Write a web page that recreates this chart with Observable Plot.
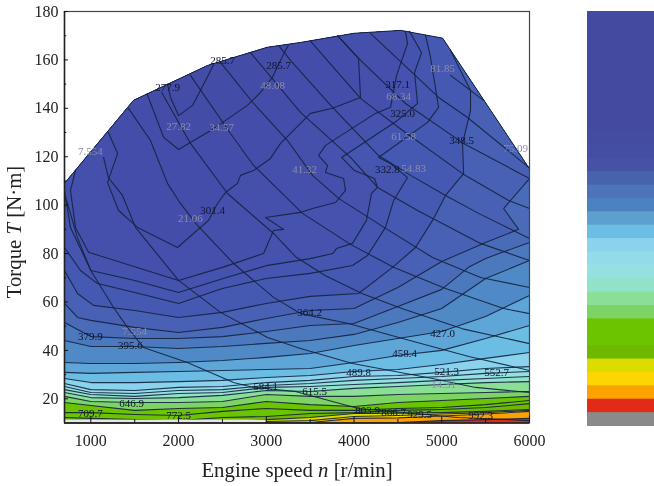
<!DOCTYPE html>
<html><head><meta charset="utf-8">
<script src="https://cdn.jsdelivr.net/npm/d3@7"></script>
<script src="https://cdn.jsdelivr.net/npm/@observablehq/plot@0.6"></script>
<style>
html,body{margin:0;padding:0;background:#fff}
#wrap{position:relative;width:654px;height:486px;overflow:hidden}
#wrap svg{position:absolute;filter:blur(0.45px)}
</style></head><body><div id="wrap"></div>
<script>
// Operating envelope [speed, torque]
const envelope=[[700,109],[1487,143.3],[2330,157.7],[3010,165.2],[3390,167.2],[4000,171],[4530,172.2],[5010,169],[6000,115]];
const speedGrid=[700,1000,1500,2000,2500,3000,3500,4000,4500,5000,5500,6000];

// BSFC contours that close on the envelope [speed, torque]
const bsfc277=[[1874,150],[1908,144.5],[2000,137],[2160,141.2],[2400,158]];
const bsfc285=[[1640,146],[1830,128],[2000,123],[2115,125.5],[2400,131.6],[2785,141.2],[2935,146.6],[3070,152.8],[3200,162.6],[3250,166]];
const bsfc301=[[1200,130],[1305,121.3],[1190,109.4],[1316,97.8],[1532,90.8],[1988,82.5],[2342,93.7],[2444,100.7],[2535,105.2],[2672,109],[2706,112.3],[2855,114.3],[3048,119.3],[3162,125.5],[3390,133.8],[3504,137.9],[3755,140],[4074,144.5],[4052,160.6],[3812,170]];
const bsfc317=[[825,114.3],[768,106.1],[825,90.8],[974,80.5],[2000,68.9],[2500,74.3],[2969,80],[3083,89.5],[3197,90],[2991,94.9],[3390,97],[3527,98.6],[3789,101.1],[3903,106.1],[3881,111],[3675,113.5],[3698,116.4],[3596,120.5],[3675,124.7],[4245,137.9],[4416,140.4],[4485,153.6],[4610,166.8],[4587,171.6]];
const bsfc325=[[700,104],[734,100.7],[848,86.5],[1000,73],[1500,68.9],[2000,63.9],[2500,69.6],[3000,75],[3500,77.9],[3759,80],[3800,82.1],[3983,84.2],[4142,93.7],[4199,104.9],[4268,107.3],[4234,111],[4005,114.3],[3858,119.7],[4496,135],[4724,142],[4690,154.8],[4770,163],[4633,171.8]];
const bsfc332=[[700,82.5],[882,73],[1076,67.6],[1500,63.9],[2000,59.4],[2500,65.6],[3000,69.7],[3500,71.8],[3983,75.1],[4154,79.2],[4359,90.8],[4451,101.9],[4610,111.4],[4416,117.2],[4280,119.7],[4838,134.2],[4964,140.4],[4872,161],[4815,170.2]];
const bsfc348=[[700,73],[848,63.5],[1031,58.6],[1500,56.5],[2000,53.6],[2500,55.7],[3000,59.4],[3500,62.3],[4052,63.5],[4439,74.3],[4701,82.5],[4895,93.7],[5043,104],[5249,113],[5237,125.5],[5328,139.1],[5328,147.4],[5100,163.9]];
const bsfc364=[[700,59.4],[848,53.6],[1000,52.4],[1500,49.5],[2000,47.4],[2500,49.5],[3000,53.2],[3500,56.5],[4000,57.3],[4500,66],[5000,76.7],[5500,84.6],[5876,90],[5705,98.6],[6000,111]];
const bsfc379=[[700,51.5],[1000,45.7],[1500,44.9],[2000,44.9],[2500,45.7],[3000,47.8],[3500,50.3],[4000,51.1],[4500,58.1],[5000,65.2],[5305,74.3],[5500,78],[5690,80.5],[6000,84.6]];

// BSFC contours across the whole speed range: torque at each speedGrid value
const bsfc395=[44.1,41.6,41.6,40.8,41.6,42.9,44.1,46.6,51.5,57.3,69.7,77.1];
const bsfc427=[35,34.6,34.6,35,35.8,37.1,38.7,42,44.9,47.8,54,62.7];
const bsfc458=[30.9,30.5,30.9,31.3,31.7,32.1,32.5,35,37.9,40,44.9,50.3];
const bsfc489=[28.4,26.7,26.7,27.1,27.6,28.8,29.6,31.3,32.1,34.2,36.7,39.1];
const bsfc521=[26.3,23.8,23.4,24.7,25.1,26.7,27.6,29.2,29.6,30.9,32.5,33.3];
const bsfc552=[25.1,22.6,22.2,23.4,23.8,25.5,26.3,27.6,28.4,29.2,30.5,31.3];
const bsfc584=[23.8,21.8,21,22.2,22.6,24.7,25.1,25.9,26.7,27.6,28.4,29.2];
const bsfc615=[22.6,20.5,20.1,20.5,21.4,23.4,23,24.3,25.1,25.9,26.7,27.1];
const bsfc646=[21,18.9,18.5,18.5,18.9,21.8,21,21,21.8,22.2,22.6,23];
const bsfc678=[18.5,17.2,15.2,16,16.4,18.9,17.6,16.8,18.5,19.3,20.1,21];
const bsfc709=[14.3,14.3,13.5,13.1,14.8,16,15.2,15.2,16,16.4,17.6,19.3];
const bsfc741=[12.3,11.9,11.4,11,12.3,12.7,13.9,14.3,15.2,15.6,16.4,18];
const bsfc772=[11,11,11,11,10.6,11.4,12.3,13.9,14.1,14.3,14.8,15.6];
const bsfc866=[10.5,10.5,10.5,10.5,10.5,10.6,11,12.7,13.1,13.7,14.3,15.2];
const bsfc929=[10.2,10.2,10.2,10.2,10.2,10.2,10.2,11.9,12.1,12.9,13.7,14.8];
const bsfc992=[10,10,10,10,10,10,10,10,10.2,11,11.4,11.9];

// Power contours [speed, torque]
const power07=[[700,106],[768,90.8],[1000,73],[1259,57.7],[1418,49.5],[1600,41.2],[2100,35],[2627,26.7],[2855,24.7],[3333,23],[4050,16],[5180,12.3],[6000,11]];
const power14=[[1145,119.7],[1200,111.4],[1361,104],[1509,90.8],[2000,68.9],[2478,55.7],[3014,45.3],[3390,40.8],[3983,34.6],[4895,28.4],[5385,24.7],[6000,22.6]];
const power21=[[1430,140],[1680,126.7],[1874,109],[2022,100.7],[2216,91.6],[2627,75.9],[3083,61.9],[3390,55.2],[3937,51.1],[4553,44.9],[5309,37.5],[6000,31.7]];
const power27=[[1806,146.6],[2136,125.5],[2558,104.8],[3083,88.3],[3333,78.7],[3675,70.8],[4097,63.4],[4553,57.2],[5237,48.9],[6000,42.8]];
const power34=[[2136,153.6],[2592,129.6],[2855,116.4],[3413,96.6],[3960,83.8],[4450,74.3],[5043,65.6],[5705,57.3],[6000,55.2]];
const power41=[[2478,159],[2855,142],[3242,126.7],[3527,112.3],[3824,102.8],[4360,90.4],[4895,78.4],[5442,70.1],[6000,66]];
const power48=[[2820,163],[3390,138.3],[3960,119.7],[4268,107.3],[4724,97.8],[5442,84.2],[6000,77.1]];
const power54=[[3150,165.5],[3276,159.8],[3755,140.4],[4280,120.5],[4645,112.3],[5043,104],[5420,96.6],[6000,86.2]];
const power61=[[3504,167.8],[4074,144.1],[4508,132.1],[5237,113],[5762,101.9],[6000,98.6]];
const power68=[[3812,170],[4052,160.6],[4587,142],[5248,125.5],[6000,111]];
const power75=[[4188,171],[4964,144.5],[5294,136.2],[5990,115.6]];
const power81=[[5100,153.6],[5477,143.3]];

// Contour labels
const bsfcLabels=["277.9","285.7","285.7","301.4","317.1","325.0","332.8","348.5","364.2","379.9","395.6","427.0","458.4","489.8","521.3","552.7","584.1","615.5","646.9","709.7","772.5","803.9","866.7","929.5","992.3"];
const bsfcLabelN=[1876,2501,3140,2387,4496,4553,4380,5226,3493,996,1452,5009,4576,4052,5055,5625,2991,3550,1464,996,2000,4154,4451,4747,5442];
const bsfcLabelT=[148.6,159.8,157.7,97.8,149.9,137.9,114.8,126.7,55.7,45.7,42,47,38.7,30.9,31.4,30.9,25.1,23,18.1,13.9,13.1,15.2,14.3,13.5,13.1];
const powerLabels=["7.554","7.554","14.31","21.06","27.82","34.57","41.32","48.08","54.83","61.58","68.34","75.09","81.85"];
const powerLabelN=[996,1498,5021,2136,2000,2490,3436,3071,4680,4565,4508,5841,5009];
const powerLabelT=[122.2,47.8,25.8,94.5,132.5,132.1,114.8,149.5,115.2,128.4,144.9,123.4,156.5];

// Colour ramp, top to bottom of the bar
const rampColors=["#444a9f","#444a9f","#444a9f","#444a9f","#444a9f","#444a9f","#444a9f","#444a9f","#444b9f","#444ca1","#444ea3","#4552a5","#4763ac","#4c74b6","#4c82c0","#5ba0cf","#6cbde4","#8bd3ed","#93dbe9","#95e0e0","#90e2c8","#8bde96","#7dd465","#6cc400","#6cc400","#6eb900","#dcdc00","#ffd500","#fba200","#e12a1a","#8a8a8a"];

const onGrid=t=>speedGrid.map((n,i)=>[n,t[i]]);
// Bottom-to-top painting order: each polygon fills everything above its contour
const bands=[
 [onGrid(bsfc992),"#fba200"],[onGrid(bsfc929),"#ffd500"],[onGrid(bsfc866),"#dcdc00"],[onGrid(bsfc772),"#6eb900"],
 [onGrid(bsfc741),"#6cc400"],[onGrid(bsfc709),"#6cc400"],[onGrid(bsfc678),"#7dd465"],[onGrid(bsfc646),"#8bde96"],
 [onGrid(bsfc615),"#90e2c8"],[onGrid(bsfc584),"#95e0e0"],[onGrid(bsfc552),"#93dbe9"],[onGrid(bsfc521),"#8bd3ed"],
 [onGrid(bsfc489),"#6cbde4"],[onGrid(bsfc458),"#5fa6d8"],[onGrid(bsfc427),"#4f8ac6"],[onGrid(bsfc395),"#4c78bd"],
 [bsfc379,"#4a6cb8"],[bsfc364,"#4861b4"],[bsfc348,"#4659b2"],[bsfc332,"#4555b0"],[bsfc325,"#4552ae"],
 [bsfc317,"#4450ac"],[bsfc301,"#444eaa"],[bsfc285,"#434da8"],[bsfc277,"#434ca7"]
];
const closed=p=>{const a=p[0][0],b=p[p.length-1][0];
 return p.concat(envelope.filter(e=>e[0]>=a&&e[0]<=b).reverse());};
const X=d=>d[0],Y=d=>d[1];
const outline=[[700,10],...envelope,[6000,10]];
const inkLine="#14223f";

const marks=[
 Plot.line(outline,{x:X,y:Y,fill:"#e12a1a",stroke:"none"}),
 ...bands.map(([p,c])=>Plot.line(closed(p),{x:X,y:Y,fill:c,stroke:"none"})),
 ...bands.map(([p])=>Plot.line(p,{x:X,y:Y,stroke:inkLine,strokeWidth:1.1,strokeOpacity:0.9})),
 ...[power07,power14,power21,power27,power34,power41,power48,power54,power61,power68,power75,power81]
   .map(p=>Plot.line(p,{x:X,y:Y,stroke:inkLine,strokeWidth:1.1,strokeOpacity:0.9})),
 Plot.line(envelope,{x:X,y:Y,stroke:inkLine,strokeWidth:1}),
 // pale strip below the mapped region
 Plot.rect([0],{x1:700,x2:3000,y1:10,y2:11.2,fill:"#e6e6e6"}),
 Plot.text(powerLabels,{x:(d,i)=>powerLabelN[i],y:(d,i)=>powerLabelT[i],text:d=>d,fill:"#8b8ca8",fontSize:11,fontFamily:"Liberation Serif"}),
 Plot.text(bsfcLabels,{x:(d,i)=>bsfcLabelN[i],y:(d,i)=>bsfcLabelT[i],text:d=>d,fill:"#10142e",fontSize:11,fontFamily:"Liberation Serif"}),
 Plot.frame({stroke:"#444",strokeWidth:1.2}),
 Plot.ruleX([700],{stroke:"#222",strokeWidth:1.5}),
 Plot.ruleY([10],{stroke:"#222",strokeWidth:1.5}),
 Plot.ruleX([1000,2000,3000,4000,5000,6000],{y1:10,y2:12.6,stroke:"#111",strokeWidth:1}),
 Plot.ruleX([1500,2500,3500,4500,5500],{y1:10,y2:11.4,stroke:"#111",strokeWidth:1}),
 Plot.ruleY([20,40,60,80,100,120,140,160,180],{x1:700,x2:745,stroke:"#111",strokeWidth:1}),
 Plot.ruleY([30,50,70,90,110,130,150,170],{x1:700,x2:725,stroke:"#111",strokeWidth:1}),
 Plot.axisX({ticks:[1000,2000,3000,4000,5000,6000],tickFormat:d=>String(d),tickSize:0,tickPadding:12,label:null,fontSize:16,fontFamily:"Liberation Serif",fill:"#222"}),
 Plot.axisY({ticks:[20,40,60,80,100,120,140,160,180],tickSize:0,tickPadding:6,label:null,fontSize:16,fontFamily:"Liberation Serif",fill:"#222"})
];
const chart=Plot.plot({width:654,height:486,marginLeft:64,marginRight:125,marginTop:11,marginBottom:63.5,style:{background:"transparent",overflow:"visible"},
 x:{domain:[700,6000],axis:null},y:{domain:[10,180],axis:null},marks});
chart.style.left="0";chart.style.top="0";
const wrap=document.getElementById("wrap");
wrap.appendChild(chart);
const svg=d3.select(chart);
const mk=(t,x,y,rot)=>{const g=svg.append("text").attr("font-family","Liberation Serif").attr("font-size",20.8).attr("fill","#222").attr("text-anchor","middle")
   .attr("transform",`translate(${x},${y})`+(rot?" rotate(-90)":""));
 t.forEach(([s,it])=>g.append("tspan").attr("font-style",it?"italic":"normal").text(s));};
mk([["Engine speed "],["n",1],[" [r/min]"]],297,477,false);
mk([["Torque "],["T",1],[" [N·m]"]],21,232,true);

const ramp=Plot.plot({width:67,height:415,margin:0,style:{background:"transparent"},
 x:{axis:null},y:{axis:null,domain:d3.range(rampColors.length),padding:0,round:false},
 marks:[Plot.cell(rampColors,{y:(d,i)=>i,fill:d=>d,inset:-0.5})]});
ramp.style.left="587px";ramp.style.top="11px";
wrap.appendChild(ramp);
</script></body></html>
